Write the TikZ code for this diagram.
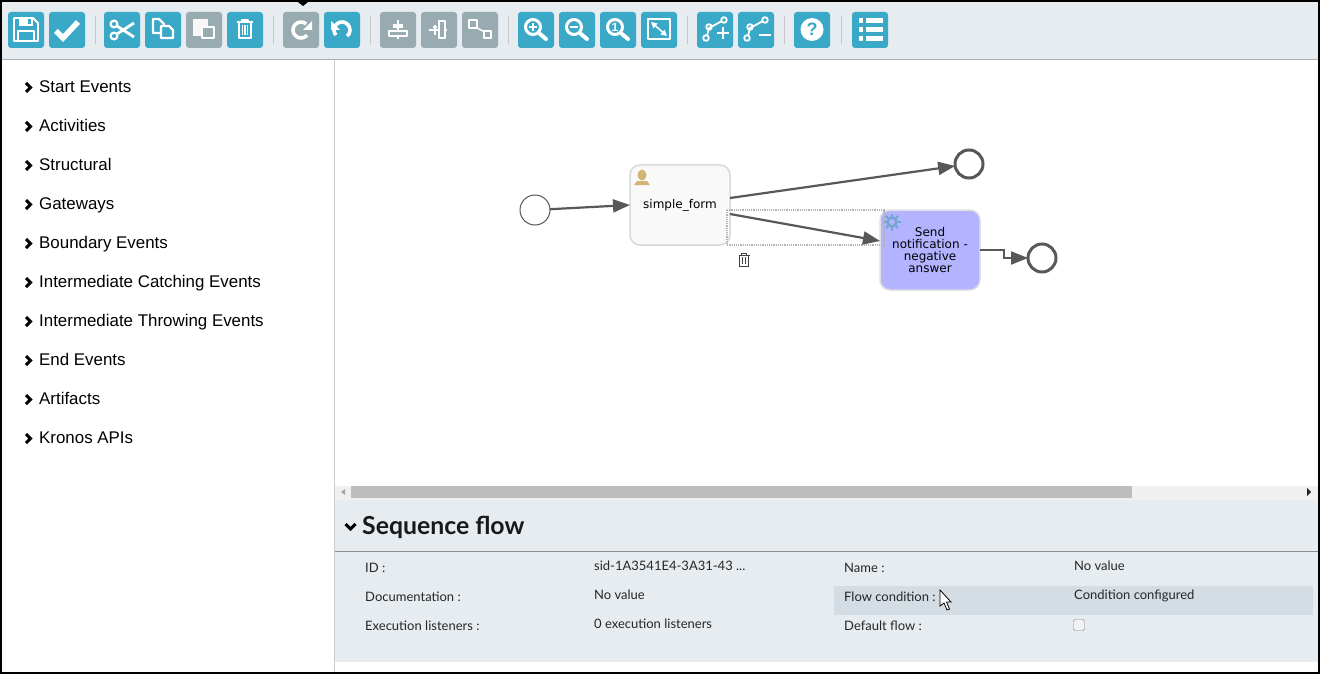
\documentclass[tikz,border=0pt]{standalone}
\usepackage{fontspec}
\setmainfont{Liberation Sans}
\newfontfamily\latofont{Lato}
\newfontfamily\dejafont{DejaVu Sans}
\usetikzlibrary{positioning}
\usetikzlibrary{arrows.meta}
\definecolor{btnblue}{HTML}{3AA8C7}
\definecolor{btngray}{HTML}{97ABB1}
\definecolor{panelbg}{HTML}{E7ECF0}
\definecolor{flowgray}{HTML}{585858}
\definecolor{usertan}{HTML}{D1B574}
\definecolor{gearblue}{HTML}{72A7D0}
\definecolor{sendfill}{HTML}{B3B3FF}
\definecolor{rowhl}{HTML}{D5DDE4}
\tikzset{
  toolbtn/.style={rectangle,fill=btnblue,rounded corners=3pt,minimum size=36pt,inner sep=0pt,outer sep=0pt},
  offbtn/.style={toolbtn,fill=btngray},
  toolsep/.style={draw=black!22,line width=1pt},
  ico/.style={draw=white,line width=2.2pt,line join=round,fill=none},
  catlabel/.style={anchor=base west,inner sep=0pt,font=\fontsize{16.9}{17}\selectfont},
  chev/.style={draw=black,line width=3pt,line join=miter},
  field/.style={anchor=base west,inner sep=0pt,text=black!85,font=\latofont\fontsize{13}{13}\selectfont},
  flow/.style={draw=flowgray,line width=2.2pt,-{Triangle[length=17pt,width=13pt]}},
  startev/.style={circle,draw=flowgray,line width=1pt,fill=white,minimum size=30pt,inner sep=0pt,outer sep=0pt},
  endev/.style={circle,draw=flowgray,line width=3pt,fill=white,minimum size=28pt,inner sep=0pt,outer sep=0pt},
  task/.style={rectangle,rounded corners=10pt,minimum width=100pt,minimum height=80pt,inner sep=0pt,outer sep=0pt,align=center,
    font=\dejafont\fontsize{12}{12}\selectfont},
  saveico/.pic={
    \draw[ico,line width=1.8pt] (-12,-12) -- (7,-12) -- (12,-7) -- (12,11) -- (-12,11) -- cycle;
    \draw[ico,line width=1.8pt] (-8,11) -- (-8,1) -- (8,1) -- (8,11);
    \fill[white] (-7,-12) rectangle (7,-4);
    \fill[btnblue] (2,-11) rectangle (5,-6);
  },
  checkico/.pic={\draw[ico,line width=5.5pt,line join=miter] (-11,1) -- (-4,8) -- (11,-8);},
  scissorsico/.pic={
    \draw[ico] (-8,-6) circle (3.4pt) (-8,6) circle (3.4pt);
    \draw[ico,line width=2.8pt] (-5,-4) -- (12,7) (-5,4) -- (12,-7);
  },
  copyico/.pic={
    \draw[ico] (-10,-11) -- (-4,-11) -- (1,-6) -- (1,3) -- (-10,3) -- cycle;
    \draw[ico,fill=btnblue] (-2,-4) -- (6,-4) -- (10,0) -- (10,8) -- (-2,8) -- cycle;
  },
  pasteico/.pic={
    \fill[black!3] (-11,-11) rectangle (4,6);
    \draw[ico,fill=btngray,line width=1.6pt] (-2,-3) rectangle (10,8);
  },
  trashico/.pic={
    \draw[ico,line width=1.8pt] (-8,-8) -- (8,-8) (-3,-8) -- (-3,-10) -- (3,-10) -- (3,-8);
    \draw[ico,line width=1.8pt] (-6,-8) -- (-6,8) -- (6,8) -- (6,-8);
    \foreach \x in {-2.5,0,2.5} \draw[ico,line width=1.5pt] (\x,-5) -- (\x,5);
  },
  redoico/.pic={
    \draw[ico,line width=3.6pt] (-40:8pt) arc[start angle=-40,end angle=-310,radius=8pt];
    \fill[white] (11,-9) -- (11,0) -- (2,0) -- cycle;
  },
  undoico/.pic={
    \draw[ico,line width=3.6pt] (220:8pt) arc[start angle=220,end angle=-50,radius=8pt];
    \fill[white] (-11,-9) -- (-11,0) -- (-2,0) -- cycle;
  },
  alignhico/.pic={
    \draw[ico] (0,-10) -- (0,9);
    \fill[white] (-5,-6) rectangle (5,-2);
    \draw[ico,fill=btngray] (-9,1) rectangle (9,6);
  },
  alignvico/.pic={
    \draw[ico] (-10,0) -- (8,0);
    \draw[ico,fill=btngray] (-6,-3) -- (-2,-3) (-4,-5) -- (-4,5);
    \draw[ico,fill=btngray] (0,-9) rectangle (6,8);
  },
  sizeico/.pic={
    \draw[ico,line width=1.8pt] (-11,-10) rectangle (-3,-2) (4,1) rectangle (11,8);
    \draw[ico,line width=1.4pt] (-3,-2) -- (5,2);
  },
  zoomplusico/.pic={
    \draw[ico,line width=3pt] (-3,-3) circle (7.5pt);
    \draw[ico,line width=4pt,line cap=round] (4,4) -- (10,9);
    \draw[ico,line width=2.4pt] (-7,-3) -- (1,-3) (-3,-7) -- (-3,1);
  },
  zoomminusico/.pic={
    \draw[ico,line width=3pt] (-3,-3) circle (7.5pt);
    \draw[ico,line width=4pt,line cap=round] (4,4) -- (10,9);
    \draw[ico,line width=2.4pt] (-7,-3) -- (1,-3);
  },
  zoomoneico/.pic={
    \draw[ico,line width=3pt] (-3,-3) circle (7.5pt);
    \draw[ico,line width=4pt,line cap=round] (4,4) -- (10,9);
    \node[text=white,inner sep=0pt,font=\bfseries\fontsize{12}{12}\selectfont] (onetxt) at (-3,-3) {1};
  },
  fitico/.pic={
    \draw[ico,line width=1.6pt] (-11,-11) rectangle (11,9);
    \draw[ico,line width=1.5pt,{Triangle[length=6pt,width=6pt]}-{Triangle[length=6pt,width=6pt]}] (-8,-8) -- (8,6);
  },
  bendico/.pic={
    \draw[ico,line width=1.8pt] (-8,6) -- (-6,-2) -- (7,-9);
    \draw[ico,line width=1.8pt] (-9,8) circle (2.8pt) (-6,-3) circle (2.8pt) (9,-10) circle (2.8pt);
  },
  listico/.pic={
    \foreach \y in {-9,0,9} {
      \fill[white] (-11,\y-2.5) rectangle (-7,\y+2.5);
      \fill[white] (-4,\y-2.5) rectangle (13,\y+2.5);
    }
  },
  chevright/.pic={\draw[chev] (-3,-4.5) -- (1.5,0) -- (-3,4.5);},
}
\begin{document}
\begin{tikzpicture}[x=1pt,y=-1pt]
   \fill[black] (0,0) rectangle (1320,674);
   \fill[white] (2,2) rectangle (1318,672);
   \useasboundingbox (0,0) rectangle (1320,674);
   % toolbar
   \fill[panelbg] (2,2) rectangle (1318,59);
   \draw[black!32,line width=1pt] (2,59.5) -- (1318,59.5);
   \fill[black] (298,2) -- (308,2) -- (303,6) -- cycle;
   \draw[black!20,line width=1pt] (334.5,60) -- (334.5,672);
   \foreach \x in {95,273,370,508,687,784,841}
      \draw[toolsep] (\x,16) -- (\x,44);
   \foreach \nm/\x/\kind/\ic in {save/26/toolbtn/saveico,check/67/toolbtn/checkico,cut/122/toolbtn/scissorsico,
      copy/163/toolbtn/copyico,paste/204/offbtn/pasteico,delete/245/toolbtn/trashico,redo/301/offbtn/redoico,
      undo/342/toolbtn/undoico,alignh/398/offbtn/alignhico,alignv/439/offbtn/alignvico,size/480/offbtn/sizeico,
      zoomin/536/toolbtn/zoomplusico,zoomout/577/toolbtn/zoomminusico,zoomone/618/toolbtn/zoomoneico,
      fit/659/toolbtn/fitico,bendadd/715/toolbtn/bendico,bendrem/756/toolbtn/bendico,list/870/toolbtn/listico} {
      \node[\kind] (\nm) at (\x,30) {};
      \pic at (\nm) {\ic};
   }
   \draw[ico,line width=2.6pt] (717,33) -- (729,33) (723,27) -- (723,39);
   \draw[ico,line width=2.6pt] (759,35) -- (771,35);
   \node[toolbtn] (help) at (812,30) {};
   \node[circle,fill=white,minimum size=23pt,inner sep=0pt,text=btnblue,font=\bfseries\fontsize{18}{18}\selectfont] (helpmark) at (812,29.5) {?};
   % categories
   \foreach \lbl [count=\i from 0] in {Start Events,Activities,Structural,Gateways,Boundary Events,
      Intermediate Catching Events,Intermediate Throwing Events,End Events,Artifacts,Kronos APIs} {
      \node[catlabel] (cat\i) at (39,92.5+39*\i) {\lbl};
      \pic at (29,87.5+39*\i) {chevright};
   }
   % diagram
   \node[startev] (start) at (535,210) {};
   \node[task,fill=black!2.5,draw=black!15,line width=1.5pt] (form) at (680,205) {simple\_form};
   \node[task,fill=sendfill,draw=black!12,line width=1.5pt] (send) at (930,250)
      {Send\\notification -\\negative\\answer};
   \node[endev] (end1) at (969,164) {};
   \node[endev] (end2) at (1042,258) {};
   \draw[black!30,line width=1.2pt,densely dotted] (727,210) rectangle (884,245);
   \path[flow] (start) -- (form.west);
   \path[flow] ([yshift=7pt]form.east) -- (end1);
   \path[flow] ([yshift=-9pt]form.east) -- ([yshift=9pt]send.west);
   \path[flow] (send.east) -- (1004,250) -- (1004,258) -- (end2);
   \fill[usertan] (642,175) ellipse (4.5pt and 5.5pt);
   \fill[usertan] (634,185) -- (637,181) -- (647,181) -- (650,185) -- cycle;
   \draw[gearblue,line width=2.6pt] (892,222) circle (4.5pt);
   \foreach \a in {0,45,...,315}
      \draw[gearblue,line width=2.2pt] (892,222) ++(\a:6pt) -- ++(\a:2.5pt);
   \begin{scope}[shift={(744,260)},scale=0.55]
      \draw[black!75,line width=1pt] (-10,-9) -- (10,-9) (-4,-9) -- (-4,-12) -- (4,-12) -- (4,-9);
      \draw[black!75,line width=1pt] (-8,-9) -- (-8,12) -- (8,12) -- (8,-9);
      \foreach \x in {-3,3} \draw[black!75,line width=1pt] (\x,-5) -- (\x,8);
   \end{scope}
   % scrollbar
   \fill[black!6] (335,486) rectangle (1318,500);
   \fill[black!26] (351,486) rectangle (1132,498);
   \fill[black!35] (345,489) -- (341,492) -- (345,495) -- cycle;
   \fill[black!85] (1307,488) -- (1311,492) -- (1307,496) -- cycle;
   % property panel
   \fill[panelbg] (335,500) rectangle (1318,662);
   \draw[black!45,line width=1pt] (335,551.5) -- (1318,551.5);
   \fill[rowhl] (834,586) rectangle (1313,615);
   \draw[chev] (345.5,524) -- (350.5,529) -- (355.5,524);
   \node[anchor=base west,inner sep=0pt,text=black!90,font=\latofont\bfseries\fontsize{24.8}{25}\selectfont] (title) at (362,534) {Sequence flow};
   \node[field] (idlbl) at (365,572) {ID :};
   \node[field] (doclbl) at (365,601) {Documentation :};
   \node[field] (exlbl) at (365,630) {Execution listeners :};
   \node[field] (idval) at (594,570) {sid-1A3541E4-3A31-43 ...};
   \node[field] (docval) at (594,599) {No value};
   \node[field] (exval) at (594,628) {0 execution listeners};
   \node[field] (namelbl) at (844,572) {Name :};
   \node[field] (condlbl) at (844,601) {Flow condition :};
   \node[field] (deflbl) at (844,630) {Default flow :};
   \node[field] (nameval) at (1074,570) {No value};
   \node[field] (condval) at (1074,599) {Condition configured};
   \node[rectangle,draw=black!50,fill=black!5,rounded corners=1.5pt,minimum size=11pt,inner sep=0pt] (defbox) at (1079,625) {};
   \draw[black,fill=white,line width=0.8pt] (940,590) -- (940,606) -- (944,603) -- (947,610) -- (949.5,609) -- (946.5,602) -- (951,602) -- cycle;
\end{tikzpicture}
\end{document}
